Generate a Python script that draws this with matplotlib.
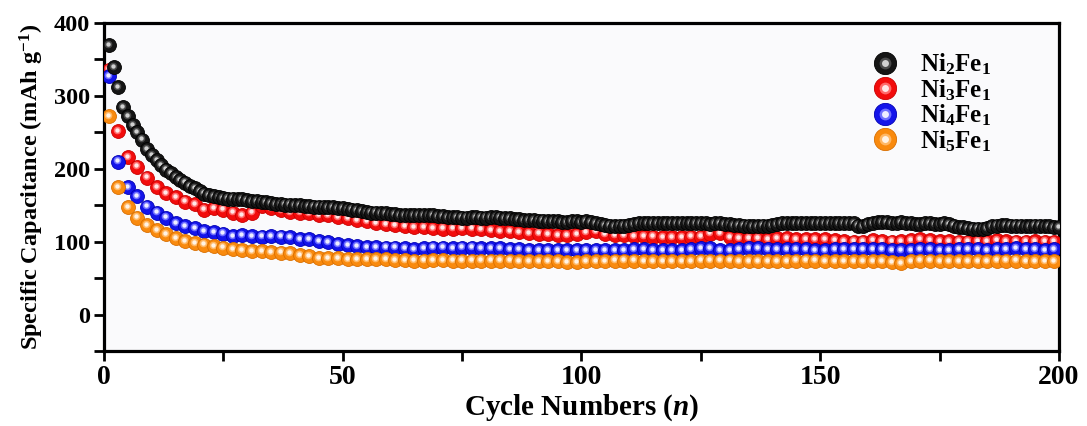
import numpy as np
import matplotlib
matplotlib.use("Agg")
import matplotlib.pyplot as plt
from matplotlib.lines import Line2D
from matplotlib.legend_handler import HandlerTuple
from matplotlib.transforms import offset_copy

plt.rcParams['font.family'] = ['Liberation Serif', 'DejaVu Serif']
plt.rcParams['font.weight'] = 'bold'
plt.rcParams['mathtext.fontset'] = 'custom'
plt.rcParams['mathtext.rm'] = 'Liberation Serif:bold'
plt.rcParams['mathtext.bf'] = 'Liberation Serif:bold'
plt.rcParams['mathtext.it'] = 'Liberation Serif:bold:italic'
plt.rcParams['mathtext.default'] = 'bf'

# cycling data: Ni2Fe1 recorded every cycle, the others every second cycle
cycles_all = np.arange(1, 201)
cycles_odd = np.arange(1, 201, 2)

ni2fe1 = [
    370, 340, 312, 285, 272, 260, 250, 240, 227, 219,
    212, 205, 199, 194, 189, 185, 181, 176, 173, 169,
    166, 164, 162, 161, 160, 159, 159, 158, 158, 157,
    156, 156, 155, 154, 153, 152, 152, 151, 151, 150,
    150, 149, 149, 148, 148, 148, 147, 147, 146, 146,
    145, 144, 143, 142, 141, 140, 140, 139, 139, 138,
    138, 137, 137, 136, 136, 136, 137, 137, 136, 135,
    135, 134, 134, 134, 133, 133, 134, 134, 133, 133,
    134, 134, 133, 132, 132, 131, 131, 130, 130, 130,
    129, 129, 128, 128, 128, 127, 127, 128, 128, 127,
    128, 127, 126, 124, 123, 122, 121, 122, 122, 123,
    124, 125, 125, 126, 126, 126, 125, 126, 126, 125,
    125, 126, 126, 125, 125, 125, 124, 125, 125, 124,
    124, 123, 123, 122, 122, 121, 121, 122, 122, 123,
    124, 125, 125, 126, 126, 126, 125, 126, 126, 125,
    125, 126, 126, 126, 125, 126, 125, 122, 121, 124,
    126, 127, 127, 127, 126, 126, 127, 125, 125, 124,
    124, 125, 125, 124, 124, 125, 124, 122, 120, 120,
    119, 118, 118, 118, 119, 121, 122, 123, 123, 122,
    122, 122, 121, 121, 122, 122, 121, 121, 120, 120,
]
ni3fe1 = [
    336, 252, 216, 203, 188, 175, 167, 161, 155, 152,
    144, 146, 144, 140, 137, 140, 149, 146, 143, 141,
    140, 139, 137, 136, 134, 132, 130, 128, 126, 124,
    123, 121, 120, 120, 119, 118, 118, 119, 118, 117,
    116, 115, 114, 113, 112, 111, 110, 109, 109, 110,
    113, 114, 110, 109, 109, 108, 108, 107, 106, 106,
    106, 107, 107, 111, 112, 106, 105, 105, 105, 104,
    105, 105, 104, 104, 104, 103, 102, 101, 100, 100,
    102, 101, 100, 101, 102, 103, 102, 101, 101, 100,
    100, 101, 101, 102, 101, 100, 100, 101, 100, 100,
]
ni4fe1 = [
    327, 210, 175, 162, 148, 140, 133, 126, 121, 119,
    115, 113, 111, 108, 109, 108, 107, 108, 107, 106,
    104, 103, 101, 99, 97, 95, 94, 93, 93, 92,
    92, 91, 90, 91, 92, 92, 91, 92, 92, 91,
    91, 91, 90, 90, 89, 89, 89, 88, 88, 88,
    88, 89, 89, 89, 89, 90, 90, 89, 89, 89,
    89, 90, 91, 91, 89, 89, 90, 91, 91, 90,
    90, 90, 90, 90, 89, 89, 90, 90, 90, 90,
    90, 90, 89, 88, 89, 90, 90, 89, 89, 90,
    90, 90, 89, 90, 90, 91, 90, 90, 89, 90,
]
ni5fe1 = [
    272, 175, 147, 133, 123, 116, 110, 105, 101, 98,
    96, 94, 92, 90, 88, 87, 87, 86, 85, 84,
    82, 80, 78, 77, 77, 76, 76, 76, 76, 76,
    75, 75, 74, 74, 75, 75, 74, 74, 74, 74,
    74, 74, 74, 73, 73, 73, 73, 73, 72, 72,
    73, 73, 73, 74, 74, 74, 73, 73, 73, 73,
    73, 73, 74, 74, 74, 74, 73, 73, 73, 73,
    73, 73, 74, 74, 74, 73, 73, 73, 73, 73,
    73, 73, 72, 71, 73, 74, 74, 73, 73, 73,
    73, 73, 73, 74, 74, 74, 73, 73, 73, 73,
]

labels = ['Ni$_2$Fe$_1$', 'Ni$_3$Fe$_1$', 'Ni$_4$Fe$_1$', 'Ni$_5$Fe$_1$']
# (base, edge, shade, highlight) for each shaded ball
styles = {
    'black': ('#151515', '#000000', '#4a4a4a', '#d0d0d0'),
    'red': ('#f20c0c', '#c80000', '#ff6a6a', '#ffe8e8'),
    'blue': ('#1414ea', '#0000b4', '#7070ff', '#eeeeff'),
    'orange': ('#f98a0e', '#d86e00', '#ffb866', '#fff3e6'),
}

fig = plt.figure(figsize=(10.87, 4.26), dpi=100)
ax = fig.add_axes([0.0957, 0.176, 0.8785, 0.770])
ax.set_facecolor('#fafafc')

size = 100
hl_tr = offset_copy(ax.transData, fig=fig, x=-1.0, y=1.2, units='dots')


def balls(x, y, key, z):
    base, edge, shade, hi = styles[key]
    for xi, yi in zip(x, y):
        ax.scatter(xi, yi, s=size, color=base, edgecolors=edge, linewidths=0.6, zorder=z)
        ax.scatter(xi, yi, s=size * 0.30, color=shade, linewidths=0, zorder=z, transform=hl_tr)
        ax.scatter(xi, yi, s=size * 0.10, color=hi, linewidths=0, zorder=z, transform=hl_tr)


balls(cycles_odd, ni3fe1, 'red', 3)
balls(cycles_odd, ni4fe1, 'blue', 3)
balls(cycles_odd, ni5fe1, 'orange', 3)
balls(cycles_all, ni2fe1, 'black', 3)

ax.set_xlim(0, 200)
ax.set_ylim(-50, 400)
ax.set_xticks([0, 50, 100, 150, 200])
ax.set_xticks([25, 75, 125, 175], minor=True)
ax.set_yticks([0, 100, 200, 300, 400])
ax.set_yticks([-50, 50, 150, 250, 350], minor=True)
ax.tick_params(which='both', direction='out', width=2, length=7, top=False, right=False)
ax.tick_params(axis='x', labelsize=20, pad=3)
ax.tick_params(axis='y', labelsize=17.5, pad=3)
for sp in ax.spines.values():
    sp.set_linewidth(2.3)

ax.set_xlabel('Cycle Numbers ($\\mathit{n}$)', fontsize=21, fontweight='bold', labelpad=2)
ax.set_ylabel('Specific Capacitance (mAh g$^{-1}$)', fontsize=17.5, fontweight='bold', labelpad=6)

handles = []
for key in ['black', 'red', 'blue', 'orange']:
    base, edge, shade, hi = styles[key]
    handles.append((
        Line2D([], [], ls='none', marker='o', ms=16, mfc=base, mec=edge, mew=0.6),
        Line2D([], [], ls='none', marker='o', ms=8.5, mfc=shade, mew=0),
        Line2D([], [], ls='none', marker='o', ms=5, mfc=hi, mew=0),
    ))
ax.legend(handles, labels, handler_map={tuple: HandlerTuple(ndivide=1)},
          loc='upper left', bbox_to_anchor=(0.786, 0.967), frameon=False,
          prop={'size': 18, 'weight': 'bold'}, handletextpad=0.9,
          labelspacing=0.0, handlelength=1.0, borderpad=0.2)

fig.savefig('out.png', dpi=100)
